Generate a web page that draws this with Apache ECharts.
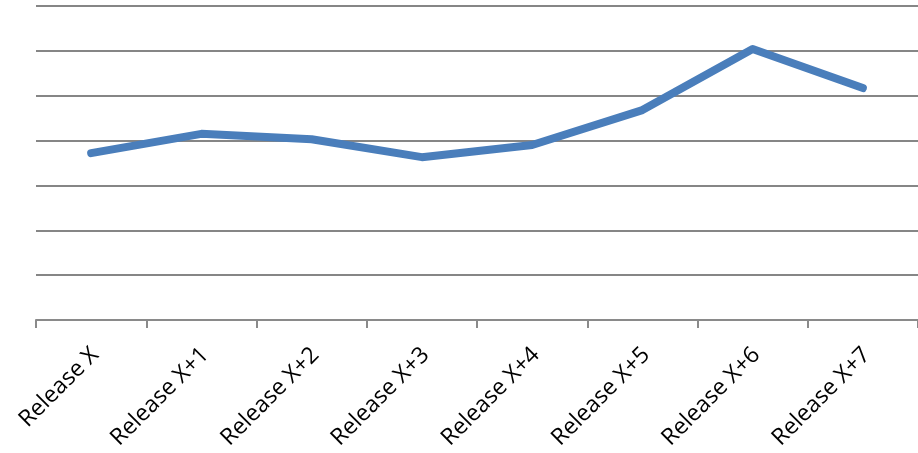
<!DOCTYPE html>
<html>
<head>
<meta charset="utf-8">
<script src="https://cdn.jsdelivr.net/npm/echarts@6/dist/echarts.min.js"></script>
<style>
  html, body { margin: 0; padding: 0; background: #ffffff; }
  #chart { width: 918px; height: 453px; }
</style>
</head>
<body>
<div id="chart"></div>
<script>
// Release-by-release trend
const categories = ['Release X', 'Release X+1', 'Release X+2', 'Release X+3',
                    'Release X+4', 'Release X+5', 'Release X+6', 'Release X+7'];
const values = [3.72, 4.15, 4.03, 3.63, 3.90, 4.68, 6.04, 5.17];
const yMin = 0;
const yMax = 7;
const yStep = 1;

const chart = echarts.init(document.getElementById('chart'), null, { renderer: 'canvas' });
chart.setOption({
  animation: false,
  grid: { left: 36, right: -2, top: 6, bottom: 133, containLabel: false },
  xAxis: {
    type: 'category',
    data: categories,
    boundaryGap: true,
    axisLine: { lineStyle: { color: '#8a8a8a', width: 2 } },
    axisTick: { show: true, length: 8, lineStyle: { color: '#8a8a8a', width: 2 } },
    axisLabel: {
      rotate: 45,
      margin: 19,
      align: 'right',
      verticalAlign: 'top',
      lineHeight: 23,
      padding: [0, 6, 0, 0],
      color: '#000000',
      fontSize: 23,
      fontFamily: 'Open Sans, Noto Sans, sans-serif'
    },
    splitLine: { show: false }
  },
  yAxis: {
    type: 'value',
    min: yMin,
    max: yMax,
    interval: yStep,
    axisLine: { show: false },
    axisTick: { show: false },
    axisLabel: { show: false },
    splitLine: { show: true, lineStyle: { color: '#868686', width: 2 } }
  },
  series: [{
    type: 'line',
    data: values,
    symbol: 'none',
    smooth: false,
    lineStyle: { color: '#4a7ebb', width: 8, cap: 'round', join: 'round' }
  }]
});
</script>
</body>
</html>
